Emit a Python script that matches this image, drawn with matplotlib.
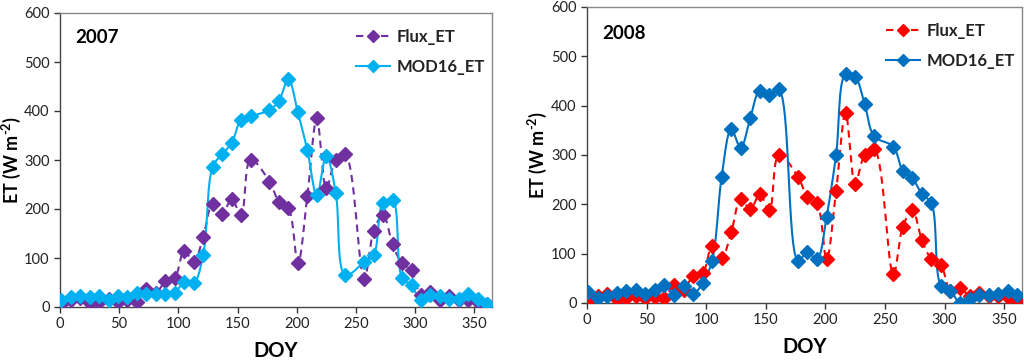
import numpy as np
import matplotlib
matplotlib.use("Agg")
import matplotlib.pyplot as plt

plt.rcParams['font.family'] = ['Lato', 'DejaVu Sans']
plt.rcParams['mathtext.fontset'] = 'custom'
plt.rcParams['mathtext.rm'] = 'Lato:bold'
plt.rcParams['mathtext.bf'] = 'Lato:bold'

# DOY for each series (8-day composites; 169 and 249 missing)
doy = [1, 9, 17, 25, 33, 41, 49, 57, 65, 73, 81, 89, 97, 105, 113, 121, 129, 137,
       145, 153, 161, 177, 185, 193, 201, 209, 217, 225, 233, 241, 257, 265, 273,
       281, 289, 297, 305, 313, 321, 329, 337, 345, 353, 361]

flux_2007 = [7, 14, 19, 8, 11, 17, 10, 14, 10, 37, 29, 53, 60, 115, 92, 143, 211, 190,
             220, 188, 301, 256, 215, 202, 89, 227, 385, 242, 300, 312, 58, 155, 188,
             128, 89, 75, 24, 31, 15, 22, 14, 15, 10, 7]
mod16_2007 = [15, 20, 22, 20, 22, 14, 22, 20, 29, 26, 27, 27, 29, 52, 49, 107, 286, 312,
              334, 382, 389, 402, 421, 465, 397, 320, 228, 309, 233, 65, 92, 106, 213,
              219, 60, 44, 14, 24, 23, 16, 16, 26, 16, 7]

flux_2008 = [7, 14, 19, 8, 11, 15, 10, 12, 10, 37, 27, 55, 60, 115, 92, 143, 211, 190,
             220, 188, 301, 256, 215, 202, 89, 227, 385, 242, 300, 312, 58, 155, 188,
             128, 89, 77, 24, 30, 15, 20, 14, 14, 12, 7]
mod16_2008 = [23, 11, 15, 20, 24, 27, 19, 26, 37, 17, 34, 19, 40, 86, 256, 352, 315, 375,
              430, 421, 433, 86, 103, 89, 175, 300, 464, 458, 403, 338, 317, 268, 253,
              221, 202, 35, 24, 1, 9, 17, 16, 19, 24, 16]

years = ["2007", "2008"]
xticks = [0, 50, 100, 150, 200, 250, 300, 350]
yticks = [0, 100, 200, 300, 400, 500, 600]

SX, SY = 1.18, 0.49  # approx pixels per data unit (for smoothing geometry)


def smooth(x, y, n=16, alpha=0.5):
    """Centripetal Catmull-Rom spline through the points (Excel-like smoothed line)."""
    p = np.column_stack([np.asarray(x, float) * SX, np.asarray(y, float) * SY])
    p = np.vstack([p[0] * 2 - p[1], p, p[-1] * 2 - p[-2]])
    out = []
    for i in range(1, len(p) - 2):
        p0, p1, p2, p3 = p[i - 1], p[i], p[i + 1], p[i + 2]
        t0 = 0.0
        t1 = t0 + max(np.linalg.norm(p1 - p0), 1e-6) ** alpha
        t2 = t1 + max(np.linalg.norm(p2 - p1), 1e-6) ** alpha
        t3 = t2 + max(np.linalg.norm(p3 - p2), 1e-6) ** alpha
        t = np.linspace(t1, t2, n, endpoint=False)[:, None]
        a1 = (t1 - t) / (t1 - t0) * p0 + (t - t0) / (t1 - t0) * p1
        a2 = (t2 - t) / (t2 - t1) * p1 + (t - t1) / (t2 - t1) * p2
        a3 = (t3 - t) / (t3 - t2) * p2 + (t - t2) / (t3 - t2) * p3
        b1 = (t2 - t) / (t2 - t0) * a1 + (t - t0) / (t2 - t0) * a2
        b2 = (t3 - t) / (t3 - t1) * a2 + (t - t1) / (t3 - t1) * a3
        c = (t2 - t) / (t2 - t1) * b1 + (t - t1) / (t2 - t1) * b2
        out.append(c)
    out.append(p[-2][None, :])
    out = np.vstack(out)
    return out[:, 0] / SX, out[:, 1] / SY


fig = plt.figure(figsize=(10.24, 3.63), dpi=100)
positions = [[60 / 1024, 1 - 307 / 363, 432 / 1024, 294 / 363],
             [587 / 1024, 1 - 303 / 363, 435 / 1024, 296 / 363]]
colors = [("#7030A0", "#00B0F0"), ("#FF0000", "#0070C0")]
data = [(flux_2007, mod16_2007), (flux_2008, mod16_2008)]
year_y = [0.918, 0.912]
ylab_pad = [0.5, 1.5]

for k in range(2):
    ax = fig.add_axes(positions[k])
    fc, mc = colors[k]
    fl, md = data[k]
    # Flux_ET dashed
    sx, sy = smooth(doy, fl)
    ax.plot(sx, sy, color=fc, lw=1.5, ls=(0, (3.5, 2.5)), zorder=2)
    ax.plot(doy, fl, ls='none', marker='D', ms=7, color=fc, zorder=3)
    ax.plot([], [], color=fc, lw=1.5, ls=(0, (3.5, 2.5)), marker='D', ms=6, label='Flux_ET')
    # MOD16_ET solid
    sx, sy = smooth(doy, md)
    ax.plot(sx, sy, color=mc, lw=1.5, zorder=2)
    ax.plot(doy, md, ls='none', marker='D', ms=7, color=mc, zorder=3)
    ax.plot([], [], color=mc, lw=1.5, marker='D', ms=6, label='MOD16_ET')

    ax.set_xlim(0, 365)
    ax.set_ylim(0, 600)
    ax.set_xticks(xticks)
    ax.set_yticks(yticks)
    ax.tick_params(direction='out', length=4, width=1, labelsize=10.5, colors='#333333',
                   labelcolor='#222222')
    for s in ax.spines.values():
        s.set_color('#888888')
        s.set_linewidth(1)
    ax.spines['left'].set_color('#444444')
    ax.spines['bottom'].set_color('#444444')
    ax.set_xlabel('DOY', fontsize=14.5, fontweight='bold', labelpad=7)
    ax.set_ylabel('ET (W m$^{\\text{-2}}$)', fontsize=13, fontweight='bold',
                  labelpad=ylab_pad[k])
    ax.text(0.035, year_y[k], years[k], transform=ax.transAxes, fontsize=13.5,
            fontweight='bold', va='center', ha='left')
    leg = ax.legend(loc='upper right', bbox_to_anchor=(1.01, 0.985), frameon=False,
                    fontsize=12, handlelength=2.0, labelspacing=0.85, borderaxespad=0.3,
                    handletextpad=0.4)
    for t in leg.get_texts():
        t.set_fontweight('bold')
        t.set_color('#222222')

fig.savefig('out.png', dpi=100)
